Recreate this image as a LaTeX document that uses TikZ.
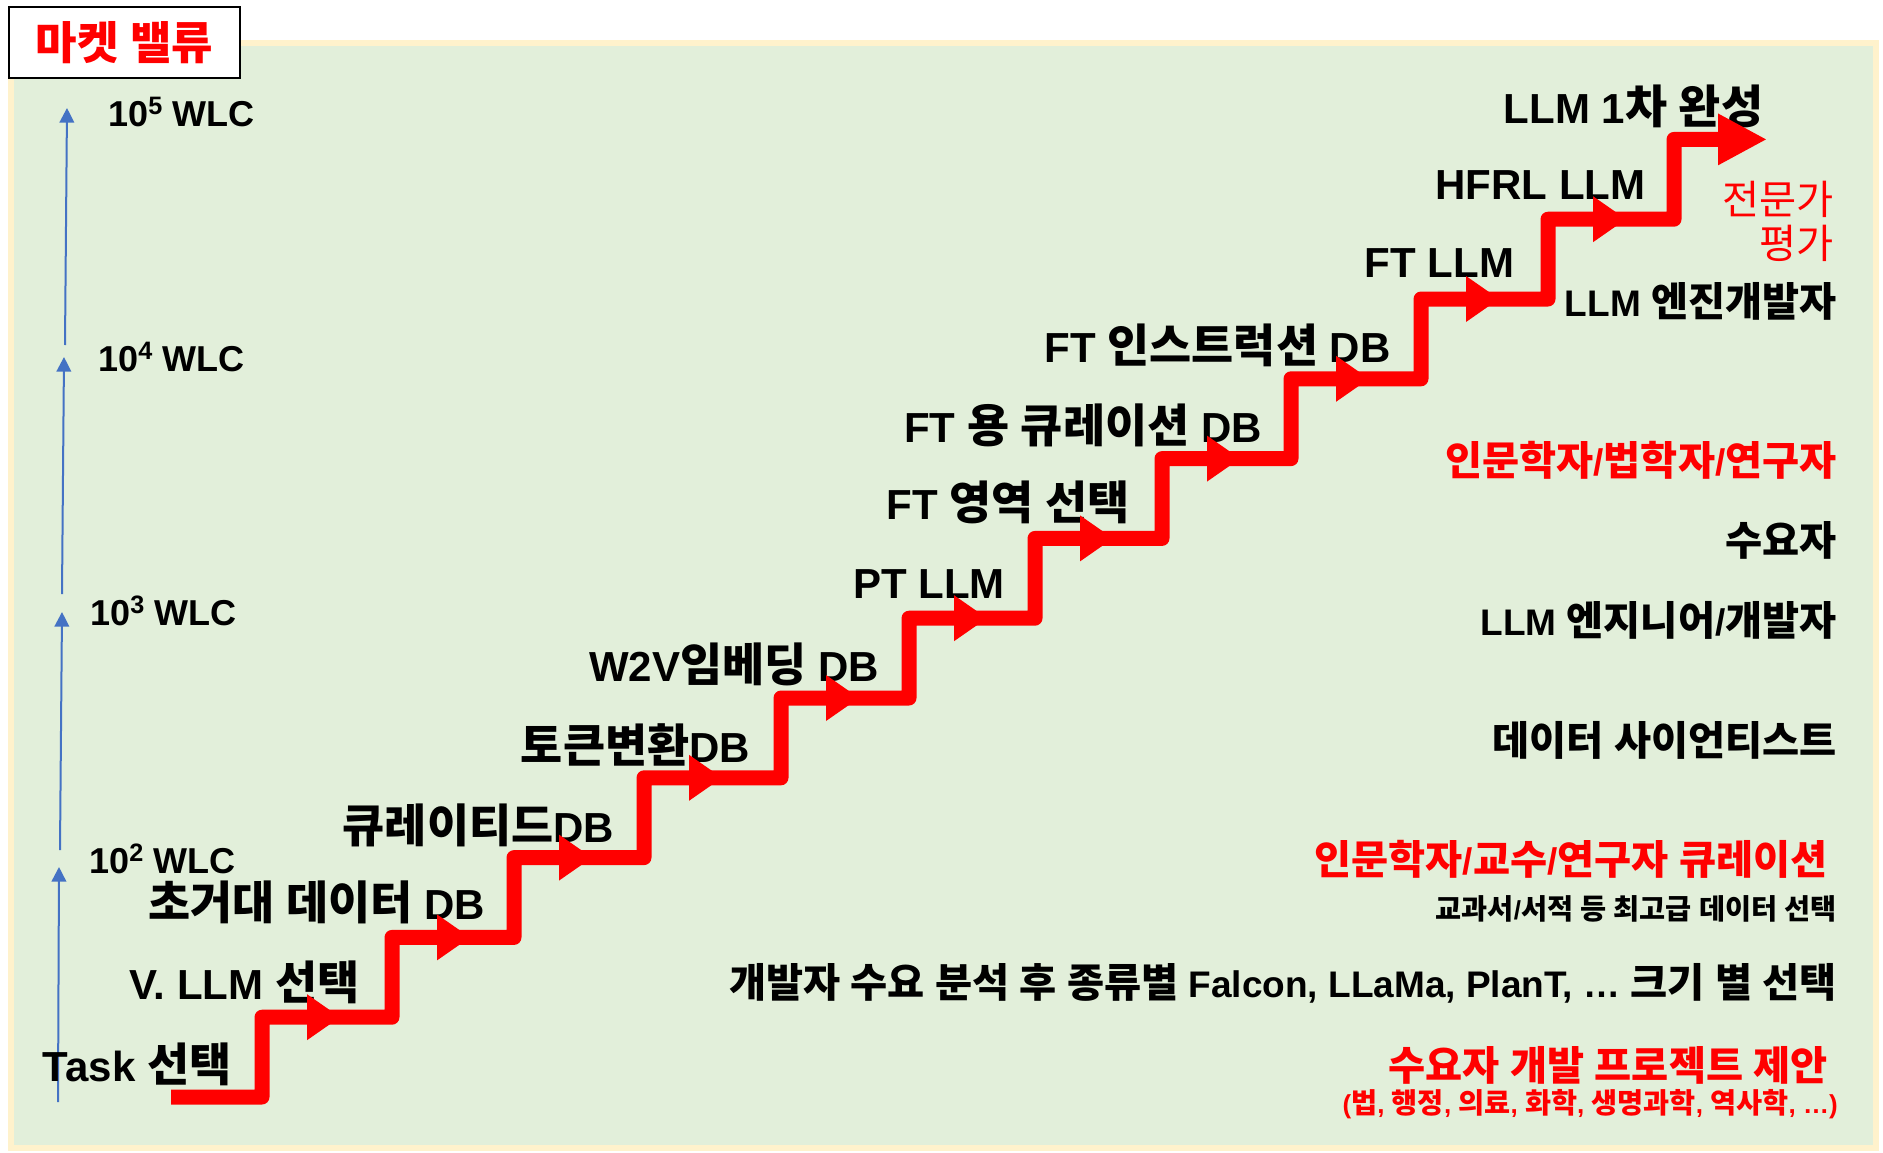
\documentclass[tikz,border=0pt]{standalone}
\usepackage{fontspec}
\setmainfont{Liberation Sans}
\newfontfamily\krfont{Noto Sans CJK KR}[Scale=1.09]
\usetikzlibrary{arrows.meta}

% hangul runs switch to the CJK face
\XeTeXinterchartokenstate=1
\newXeTeXintercharclass\hangulclass
\count255="AC00
\loop
  \XeTeXcharclass\count255=\hangulclass
  \advance\count255 by 1
\ifnum\count255<"D7A4
\repeat
\XeTeXinterchartoks 0 \hangulclass = {\begingroup\krfont}
\XeTeXinterchartoks 4095 \hangulclass = {\begingroup\krfont}
\XeTeXinterchartoks \hangulclass 0 = {\endgroup}
\XeTeXinterchartoks \hangulclass 4095 = {\endgroup}

\definecolor{bggreen}{HTML}{E2EFDA}
\definecolor{bgcream}{HTML}{FFF2CC}
\definecolor{axisblue}{HTML}{4472C4}

\begin{document}
\begin{tikzpicture}[x=0.75pt, y=-0.75pt,
  stair/.style={red, line width=11.25pt, line join=round},
  axis/.style={axisblue, line width=1.5pt, -{Triangle[length=11pt,width=11pt]}},
  wlclbl/.style={anchor=west, inner sep=0pt, font=\fontsize{27}{32}\selectfont\bfseries},
  steplbl/.style={inner sep=0pt, font=\fontsize{31.5}{38}\selectfont\bfseries},
  rolelbl/.style={anchor=east, inner sep=0pt, font=\fontsize{27.75}{33}\selectfont\bfseries},
  notelbl/.style={font=\fontsize{19.5}{24}\selectfont\bfseries}]
\useasboundingbox (0,0) rectangle (1883,1152);
\draw[bgcream, line width=4.5pt, fill=bggreen] (11,43) rectangle (1876,1148);

\node (title) [draw, line width=1.5pt, fill=white, anchor=north west,
  minimum width=173.25pt, minimum height=53.25pt, text=red,
  font=\fontsize{31}{36}\selectfont\bfseries] at (8,6) {마켓 밸류};

% value axis
\coordinate (lo2) at (58,1102); \coordinate (w2) at (59,867);
\coordinate (lo3) at (60,850);  \coordinate (w3) at (62,612);
\coordinate (lo4) at (62,594);  \coordinate (w4) at (64,357);
\coordinate (lo5) at (65,345);  \coordinate (w5) at (67,108);
\foreach \k in {2,...,5}
  \draw[axis] (lo\k) -- (w\k);
\node[wlclbl] (wlc5) at (108,112) {10\textsuperscript{5} WLC};
\node[wlclbl] (wlc4) at (98,357) {10\textsuperscript{4} WLC};
\node[wlclbl] (wlc3) at (90,611) {10\textsuperscript{3} WLC};
\node[wlclbl] (wlc2) at (89,859) {10\textsuperscript{2} WLC};

% steps
\node[steplbl] (task) at (137,1064) {Task 선택};
\node[steplbl] (vllm) at (244.5,982) {V. LLM 선택};
\node[steplbl] (bigdb) at (316.5,902) {초거대 데이터 DB};
\node[steplbl] (curdb) at (478.5,825) {큐레이티드DB};
\node[steplbl] (tokdb) at (635.5,745) {토큰변환DB};
\node[steplbl] (w2vdb) at (734,664) {W2V임베딩 DB};
\node[steplbl] (ptllm) at (929,584) {PT LLM};
\node[steplbl] (ftarea) at (1008,502) {FT 영역 선택};
\node[steplbl] (ftcur) at (1083,425) {FT 용 큐레이션 DB};
\node[steplbl] (ftins) at (1217.5,345) {FT 인스트럭션 DB};
\node[steplbl] (ftllm) at (1439.5,263) {FT LLM};
\node[steplbl] (hfrl) at (1540.5,185) {HFRL LLM};
\node[steplbl] (done) at (1633.5,106) {LLM 1차 완성};

\coordinate (s0) at (171,1097);
\foreach \x [count=\i] in {262,392,514,644,781,909,1035,1162,1291,1421,1548,1674}
  \coordinate (s\i) at (\x,{1097-79.8*\i});
\coordinate (fin) at (1767,139.4);
\draw[stair, -{Triangle[length=36.75pt,width=36pt]}] (s0)
  \foreach \i in {1,...,12} { -| (s\i) } -- (fin);
\foreach \i in {1,...,11}
  \fill[red, shift={(s\i)}] (45,-23) -- (78,0) -- (45,23) -- cycle;

% roles
\node[rolelbl, text=red, align=right, font=\fontsize{27.75}{33}\selectfont] (expert) at (1834,221) {전문가\\평가};
\node[rolelbl] (engdev) at (1837,301) {LLM 엔진개발자};
\node[rolelbl, text=red] (scholars) at (1837,460) {인문학자/법학자/연구자};
\node[rolelbl] (demand) at (1837,540) {수요자};
\node[rolelbl] (engineer) at (1837,620) {LLM 엔지니어/개발자};
\node[rolelbl] (scientist) at (1837,740) {데이터 사이언티스트};
\node[rolelbl, text=red] (curation) at (1828,859) {인문학자/교수/연구자 큐레이션};
\node[rolelbl, notelbl] (textbook) at (1837,909) {교과서/서적 등 최고급 데이터 선택};
\node[rolelbl] (select) at (1837,983) {개발자 수요 분석 후 종류별 Falcon, LLaMa, PlanT, … 크기 별 선택};
\node[rolelbl, text=red] (proposal) at (1828,1065) {수요자 개발 프로젝트 제안};
\node[rolelbl, notelbl, text=red] (fields) at (1838,1104) {(법, 행정, 의료, 화학, 생명과학, 역사학, …)};
\end{tikzpicture}
\end{document}
